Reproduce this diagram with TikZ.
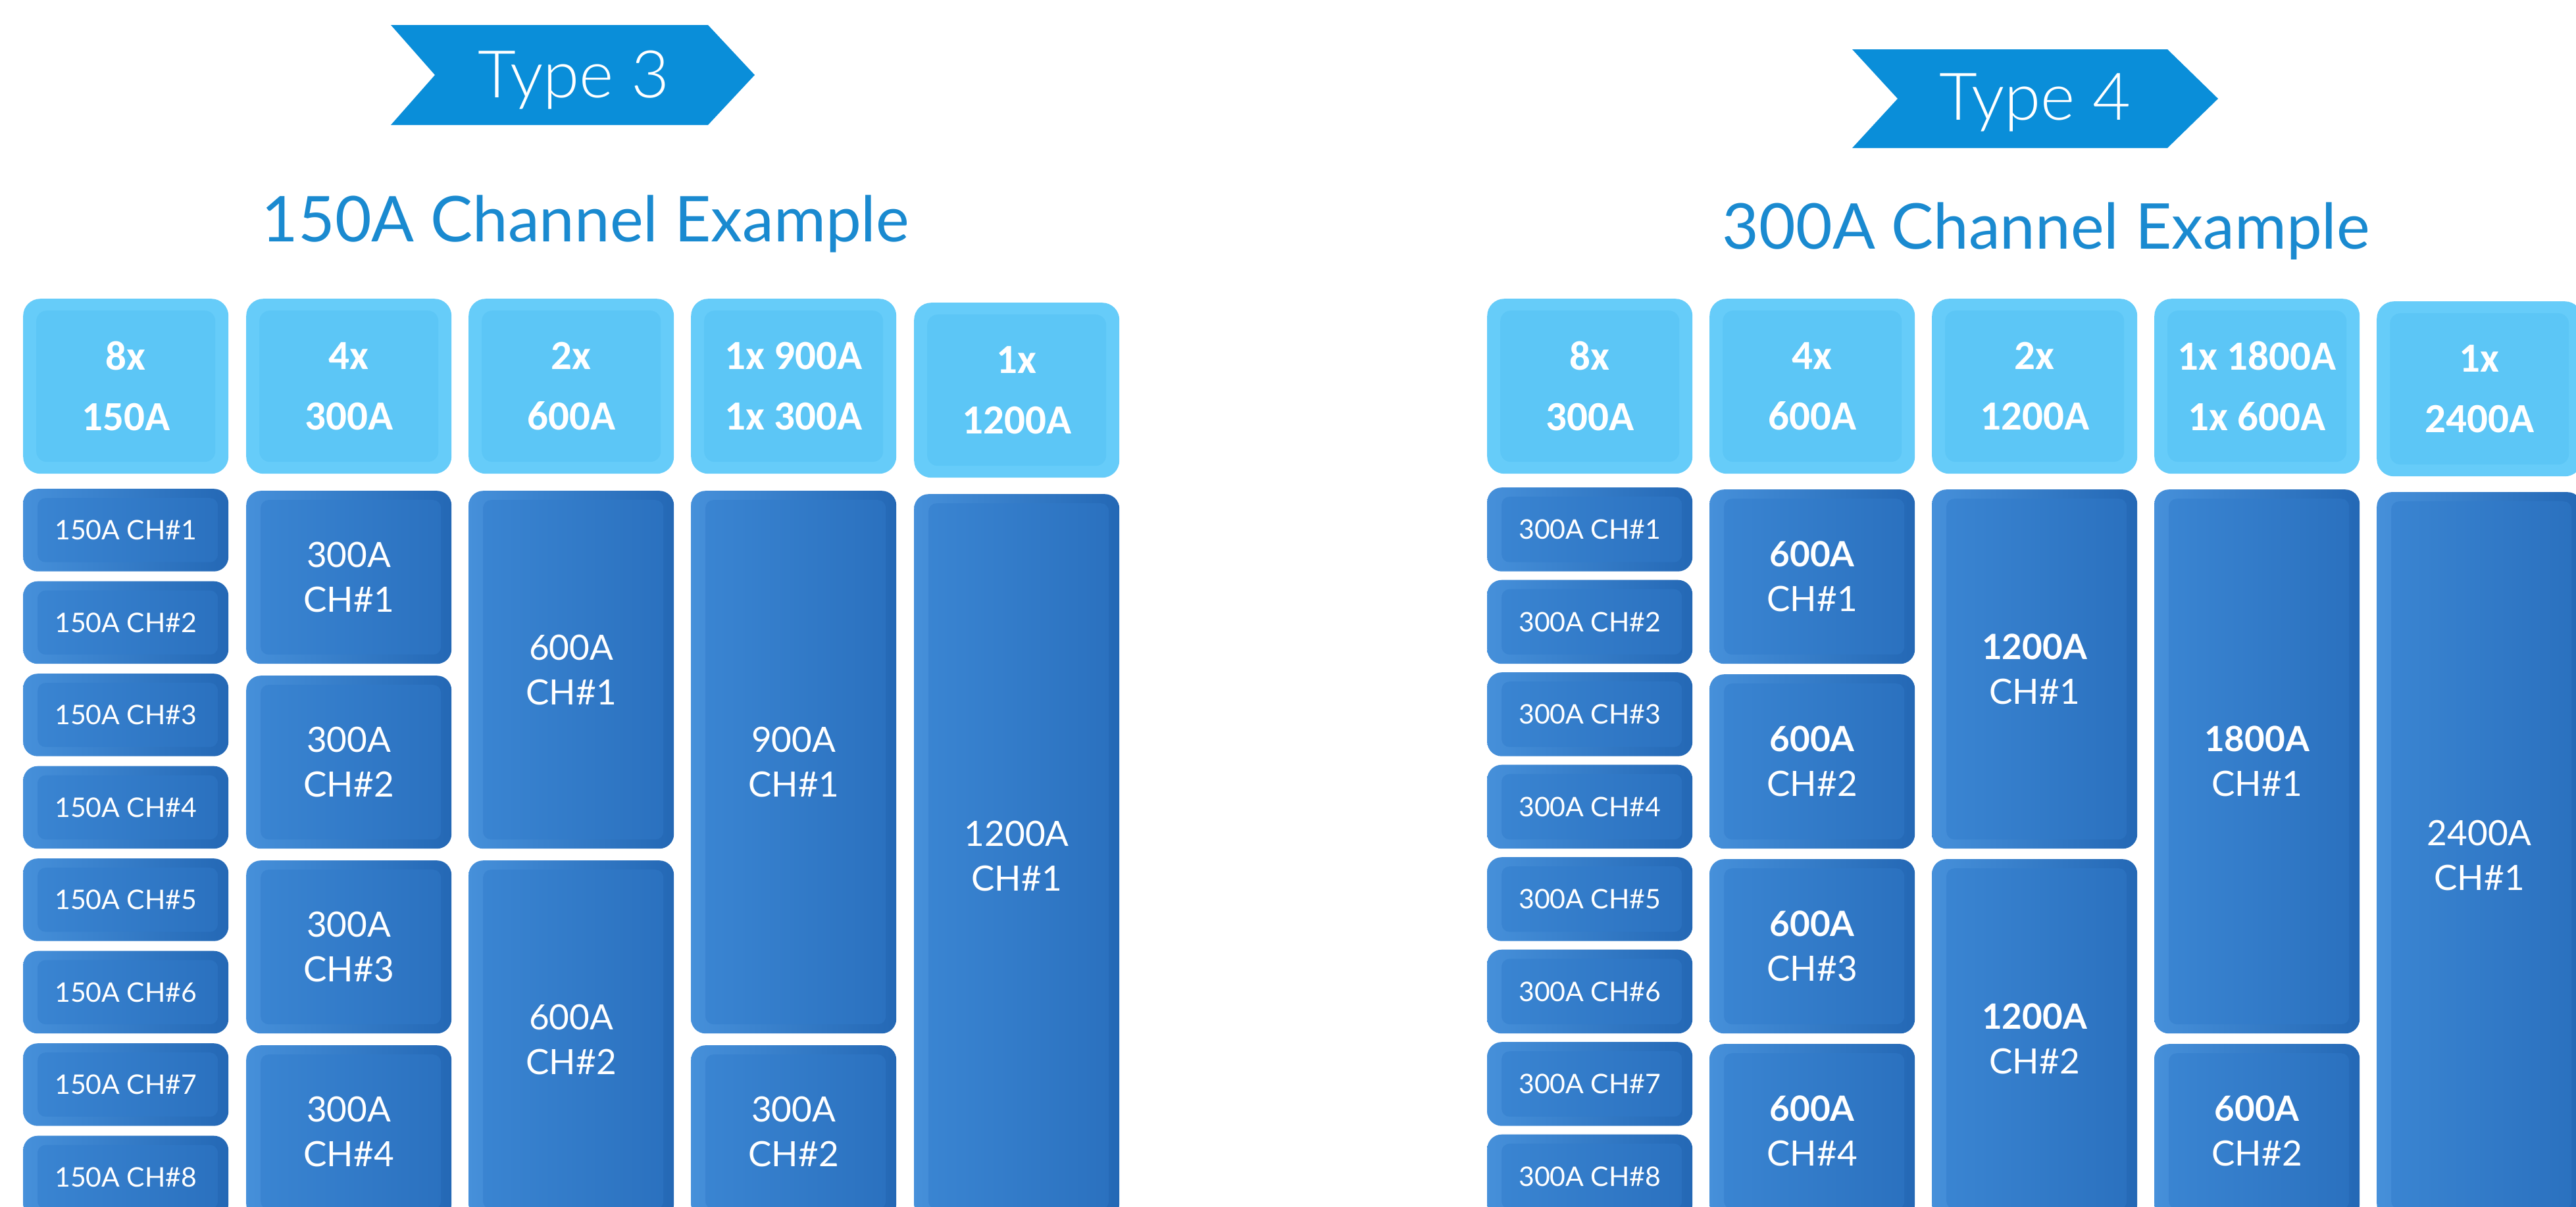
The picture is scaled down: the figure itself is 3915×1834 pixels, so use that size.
\documentclass[tikz,border=0pt]{standalone}
\usepackage{fontspec}
\newfontfamily\latoreg{Lato}
\newfontfamily\latolight{Lato Light}
\newfontfamily\carl{Carlito}
\definecolor{arrowblue}{HTML}{0A8ED9}
\definecolor{titleblue}{HTML}{1A8AD0}
\definecolor{hdredge}{HTML}{66CCF9}
\definecolor{hdrface}{HTML}{5CC6F6}
\definecolor{bodyL}{HTML}{4690DA}
\definecolor{bodyR}{HTML}{2468B5}
\definecolor{innerL}{HTML}{3B86D3}
\definecolor{innerR}{HTML}{2A70BE}
\tikzset{
 hdr/.style={rounded corners=26pt, fill=hdredge, minimum width=312pt, minimum height=266pt,
   anchor=north west, inner sep=0pt, text=white, align=center,
   font=\carl\bfseries\fontsize{63}{92}\selectfont,
   path picture={\fill[hdrface, rounded corners=16pt]
     ([shift={(20pt,-18pt)}]path picture bounding box.north west) rectangle
     ([shift={(-20pt,18pt)}]path picture bounding box.south east);}},
 body/.style={rounded corners=22pt, left color=bodyL, right color=bodyR, minimum width=312pt,
   anchor=north west, inner sep=0pt, text=white, align=center,
   font=\latoreg\fontsize{53}{68}\selectfont,
   path picture={\shade[left color=innerL, right color=innerR, rounded corners=12pt]
     ([shift={(22pt,-14pt)}]path picture bounding box.north west) rectangle
     ([shift={(-16pt,14pt)}]path picture bounding box.south east);}},
 small/.style={font=\latoreg\fontsize{41}{48}\selectfont},
 chev/.style={fill=arrowblue},
 ttl/.style={text=titleblue, font=\latoreg\fontsize{96}{110}\selectfont, anchor=base, inner sep=0pt},
 typ/.style={text=white, font=\latolight\fontsize{100}{110}\selectfont, anchor=base, inner sep=0pt},
}
% #1 extra style, #2 name, #3 x, #4 first unit, #5 last unit, #6 top offset, #7 text
\newcommand\chbox[7][]{%
  \pgfmathsetmacro\bt{743+#4*140.5+#6}%
  \pgfmathsetmacro\bh{743+(#5+1)*140.5-15-\bt}%
  \node[body,#1,minimum height=\bh pt] (#2) at (#3,\bt) {#7};%
}
% #1 name, #2 x, #3 y, #4 text
\newcommand\hdbox[4]{\node[hdr] (#1) at (#2,#3) {#4};}
\begin{document}
\begin{tikzpicture}[x=1pt,y=-1pt]
\useasboundingbox (0,0) rectangle (3915,1834);
\clip (0,0) rectangle (3915,1834);
\fill[white] (0,0) rectangle (3915,1834);

% ---------- Left panel ----------
\path[chev] (594,38) -- (1076,38) -- (1147,114) -- (1076,190) -- (594,190) -- (661,114) -- cycle;
\node[typ] (t3) at (872,148) {Type 3};
\node[ttl] (title3) at (890,367) {150A Channel Example};

\hdbox{h31}{35}{454}{8x\\150A}
\hdbox{h32}{374}{454}{4x\\300A}
\hdbox{h33}{712}{454}{2x\\600A}
\hdbox{h34}{1050}{454}{1x 900A\\1x 300A}
\hdbox{h35}{1389}{460}{1x\\1200A}

\chbox[small]{a11}{35}{0}{0}{0}{150A CH\#1}
\chbox[small]{a12}{35}{1}{1}{0}{150A CH\#2}
\chbox[small]{a13}{35}{2}{2}{0}{150A CH\#3}
\chbox[small]{a14}{35}{3}{3}{0}{150A CH\#4}
\chbox[small]{a15}{35}{4}{4}{0}{150A CH\#5}
\chbox[small]{a16}{35}{5}{5}{0}{150A CH\#6}
\chbox[small]{a17}{35}{6}{6}{0}{150A CH\#7}
\chbox[small]{a18}{35}{7}{7}{0}{150A CH\#8}

\chbox{a21}{374}{0}{1}{3}{300A\\CH\#1}
\chbox{a22}{374}{2}{3}{3}{300A\\CH\#2}
\chbox{a23}{374}{4}{5}{3}{300A\\CH\#3}
\chbox{a24}{374}{6}{7}{3}{300A\\CH\#4}

\chbox{a31}{712}{0}{3}{3}{600A\\CH\#1}
\chbox{a32}{712}{4}{7}{3}{600A\\CH\#2}

\chbox{a41}{1050}{0}{5}{3}{900A\\CH\#1}
\chbox{a42}{1050}{6}{7}{3}{300A\\CH\#2}

\chbox{a51}{1389}{0}{7}{8}{1200A\\CH\#1}

% ---------- Right panel ----------
\path[chev] (2815,75) -- (3294,75) -- (3371,150) -- (3294,225) -- (2815,225) -- (2884,150) -- cycle;
\node[typ] (t4) at (3093,182) {Type 4};
\node[ttl] (title4) at (3110,378) {300A Channel Example};

\hdbox{h41}{2260}{454}{8x\\300A}
\hdbox{h42}{2598}{454}{4x\\600A}
\hdbox{h43}{2936}{454}{2x\\1200A}
\hdbox{h44}{3274}{454}{1x 1800A\\1x 600A}
\hdbox{h45}{3612}{458}{1x\\2400A}

\chbox[small]{b11}{2260}{0}{0}{-2}{300A CH\#1}
\chbox[small]{b12}{2260}{1}{1}{-2}{300A CH\#2}
\chbox[small]{b13}{2260}{2}{2}{-2}{300A CH\#3}
\chbox[small]{b14}{2260}{3}{3}{-2}{300A CH\#4}
\chbox[small]{b15}{2260}{4}{4}{-2}{300A CH\#5}
\chbox[small]{b16}{2260}{5}{5}{-2}{300A CH\#6}
\chbox[small]{b17}{2260}{6}{6}{-2}{300A CH\#7}
\chbox[small]{b18}{2260}{7}{7}{-2}{300A CH\#8}

\chbox{b21}{2598}{0}{1}{1}{\textbf{600A}\\CH\#1}
\chbox{b22}{2598}{2}{3}{1}{\textbf{600A}\\CH\#2}
\chbox{b23}{2598}{4}{5}{1}{\textbf{600A}\\CH\#3}
\chbox{b24}{2598}{6}{7}{1}{\textbf{600A}\\CH\#4}

\chbox{b31}{2936}{0}{3}{1}{\textbf{1200A}\\CH\#1}
\chbox{b32}{2936}{4}{7}{1}{\textbf{1200A}\\CH\#2}

\chbox{b41}{3274}{0}{5}{1}{\textbf{1800A}\\CH\#1}
\chbox{b42}{3274}{6}{7}{1}{\textbf{600A}\\CH\#2}

\chbox{b51}{3612}{0}{7}{5}{2400A\\CH\#1}
\end{tikzpicture}
\end{document}
